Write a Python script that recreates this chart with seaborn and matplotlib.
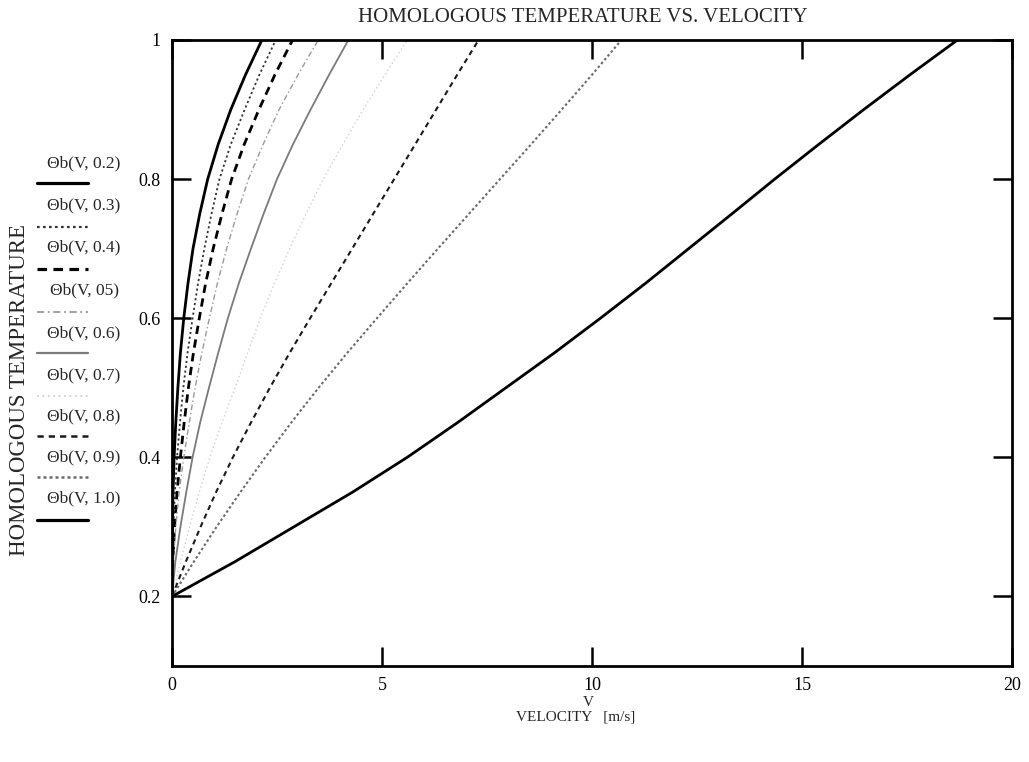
import matplotlib
matplotlib.use("Agg")
import matplotlib.pyplot as plt
import pandas as pd
import seaborn as sns
from matplotlib.lines import Line2D

theta_levels = [0.20, 0.25, 0.30, 0.35, 0.40, 0.45, 0.50, 0.55, 0.60,
                0.65, 0.70, 0.75, 0.80, 0.85, 0.90, 0.95, 1.00]

v_02 = [0.0, 0.003, 0.01, 0.025, 0.05, 0.09, 0.14, 0.20, 0.28,
        0.38, 0.50, 0.66, 0.85, 1.10, 1.40, 1.75, 2.14]
v_03 = [0.0, 0.01, 0.03, 0.07, 0.12, 0.19, 0.27, 0.37, 0.49,
        0.62, 0.77, 0.94, 1.13, 1.40, 1.73, 2.08, 2.47]
v_04 = [0.0, 0.02, 0.06, 0.12, 0.20, 0.29, 0.39, 0.51, 0.65,
        0.80, 0.98, 1.19, 1.42, 1.72, 2.07, 2.45, 2.87]
v_05 = [0.0, 0.03, 0.09, 0.17, 0.28, 0.41, 0.55, 0.71, 0.89,
        1.08, 1.30, 1.55, 1.82, 2.17, 2.55, 3.00, 3.48]
v_06 = [0.0, 0.08, 0.20, 0.34, 0.49, 0.67, 0.88, 1.10, 1.33,
        1.59, 1.88, 2.18, 2.50, 2.88, 3.30, 3.74, 4.20]
v_07 = [0.0, 0.20, 0.42, 0.65, 0.90, 1.19, 1.50, 1.80, 2.10,
        2.44, 2.80, 3.19, 3.60, 4.07, 4.55, 5.07, 5.60]
v_08 = [0.0, 0.33, 0.68, 1.05, 1.45, 1.88, 2.33, 2.80, 3.29,
        3.79, 4.29, 4.79, 5.29, 5.79, 6.29, 6.79, 7.30]
v_09 = [0.0, 0.52, 1.06, 1.63, 2.22, 2.84, 3.49, 4.17, 4.88,
        5.60, 6.33, 7.07, 7.81, 8.55, 9.28, 10.00, 10.70]
v_10 = [0.0, 1.50, 2.90, 4.30, 5.60, 6.80, 7.95, 9.10, 10.20,
        11.27, 12.30, 13.33, 14.35, 15.40, 16.47, 17.57, 18.70]

curve_names = ["0.2", "0.3", "0.4", "05", "0.6", "0.7", "0.8", "0.9", "1.0"]
curve_values = [v_02, v_03, v_04, v_05, v_06, v_07, v_08, v_09, v_10]
legend_labels = ["Θb(V, %s)" % n for n in curve_names]

x_ticks = [0, 5, 10, 15, 20]
x_tick_labels = ["0", "5", "10", "15", "20"]
y_ticks = [0.2, 0.4, 0.6, 0.8, 1.0]
y_tick_labels = ["0.2", "0.4", "0.6", "0.8", "1"]

# styles (grayscale print of Mathcad traces)
styles = [
    dict(color="#000000", linestyle="-", lw=2.0),
    dict(color="#333333", linestyle=(0, (1.2, 1.5)), lw=1.3),
    dict(color="#000000", linestyle=(0, (3, 2)), lw=2.0),
    dict(color="#9a9a9a", linestyle=(0, (4, 2, 1, 2)), lw=1.0),
    dict(color="#7a7a7a", linestyle="-", lw=1.3),
    dict(color="#cfcfcf", linestyle=(0, (1, 2)), lw=1.0),
    dict(color="#1a1a1a", linestyle=(0, (2.5, 2)), lw=1.5),
    dict(color="#6a6a6a", linestyle=(0, (1.2, 1.2)), lw=1.5),
    dict(color="#000000", linestyle="-", lw=2.0),
]

rows = []
for name, vs in zip(curve_names, curve_values):
    for v, t in zip(vs, theta_levels):
        rows.append({"V": v, "theta": t, "curve": name})
df = pd.DataFrame(rows)

sns.set_theme(style="white")
plt.rcParams["font.family"] = ["Liberation Serif", "DejaVu Serif"]

fig = plt.figure(figsize=(10.29, 7.62), dpi=100)
ax = fig.add_axes([172 / 1029, 1 - 666 / 762, (1012 - 172) / 1029, (666 - 40) / 762])

for name, st in zip(curve_names, styles):
    sub = df[df["curve"] == name]
    sns.lineplot(data=sub, x="V", y="theta", estimator=None, sort=False, ax=ax,
                 color=st["color"], linestyle=st["linestyle"], linewidth=st["lw"],
                 legend=False)

ax.set_xlim(0, 20)
ax.set_ylim(0.1, 1.0)
ax.set_xticks(x_ticks)
ax.set_xticklabels(x_tick_labels)
ax.set_yticks(y_ticks)
ax.set_yticklabels(y_tick_labels)
ax.set_xlabel("")
ax.set_ylabel("")
ax.tick_params(direction="in", length=14, width=1.8, top=True, right=True,
               bottom=True, left=True, labelsize=13, colors="black", pad=8)
for sp in ax.spines.values():
    sp.set_visible(True)
    sp.set_color("black")
    sp.set_linewidth(2.0)

# Title and axis labels
fig.text(583 / 1029, 1 - 18 / 762, "HOMOLOGOUS TEMPERATURE VS. VELOCITY",
         ha="center", va="center", fontsize=15)
fig.text(588 / 1029, 1 - 702 / 762, "V", ha="center", va="center", fontsize=11)
fig.text(576 / 1029, 1 - 717 / 762, "VELOCITY   [m/s]", ha="center", va="center", fontsize=11)
fig.text(20 / 1029, 1 - 390 / 762, "HOMOLOGOUS TEMPERATURE", rotation=90,
         ha="center", va="center", fontsize=16.5)

# Stacked Mathcad-style legend: label with a line sample underneath
text_y = [163, 205, 247, 290, 333, 375, 416, 457, 498]
line_y = [183, 227, 269, 312, 353, 396, 436, 477, 520]
for lab, st, ty, ly in zip(legend_labels, styles, text_y, line_y):
    fig.text(84 / 1029, 1 - ty / 762, lab, ha="center", va="center", fontsize=12.5)
    fig.add_artist(Line2D([37 / 1029, 88 / 1029], [1 - ly / 762, 1 - ly / 762],
                          transform=fig.transFigure, color=st["color"],
                          linestyle=st["linestyle"], linewidth=st["lw"] + 0.3))

fig.savefig("out.png", dpi=100, facecolor="white")
